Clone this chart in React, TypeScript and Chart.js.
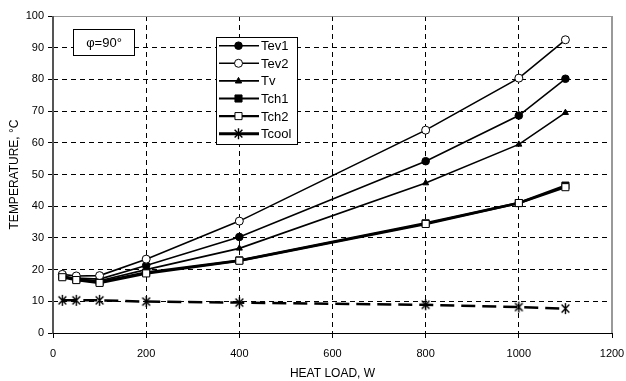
import React, { useEffect, useRef } from 'react';
import { Chart, registerables } from 'chart.js';

Chart.register(...registerables);

// ---- data ----
const heatLoad = [20, 50, 100, 200, 400, 800, 1000, 1100];
const tev1 = [17.8, 17.3, 17.0, 21.3, 30.3, 54.2, 68.6, 80.2];
const tev2 = [18.5, 18.0, 18.1, 23.3, 35.3, 64.0, 80.4, 92.5];
const tv = [17.6, 17.0, 16.5, 20.0, 26.7, 47.3, 59.5, 69.5];
const tch1 = [17.9, 16.9, 16.1, 19.1, 22.9, 34.6, 41.0, 46.5];
const tch2 = [17.6, 16.7, 15.8, 18.8, 22.8, 34.4, 41.0, 46.0];
const tcool = [10.3, 10.3, 10.3, 9.9, 9.6, 8.9, 8.2, 7.7];
const seriesNames = ['Tev1', 'Tev2', 'Tv', 'Tch1', 'Tch2', 'Tcool'];
const xTitle = 'HEAT LOAD, W';
const yTitle = 'TEMPERATURE, °C';
const annotationText = 'φ=90°';
const xRange = [0, 1200];
const yRange = [0, 100];

const FONT = "'Liberation Sans', Arial, sans-serif";

function drawMarker(ctx: CanvasRenderingContext2D, style: string, x: number, y: number, r: number, fill: string, lw = 1) {
  ctx.save();
  ctx.lineWidth = lw;
  ctx.strokeStyle = '#000';
  ctx.fillStyle = fill;
  ctx.setLineDash([]);
  ctx.beginPath();
  if (style === 'circle') {
    ctx.arc(x, y, r, 0, Math.PI * 2);
    ctx.fill();
    ctx.stroke();
  } else if (style === 'triangle') {
    ctx.moveTo(x, y - r);
    ctx.lineTo(x + r * 0.9, y + r * 0.6);
    ctx.lineTo(x - r * 0.9, y + r * 0.6);
    ctx.closePath();
    ctx.fill();
    ctx.stroke();
  } else if (style === 'rect') {
    const s = r * Math.SQRT1_2;
    ctx.rect(x - s, y - s, 2 * s, 2 * s);
    ctx.fill();
    ctx.stroke();
  } else {
    const s = r * Math.SQRT1_2;
    ctx.moveTo(x - s, y - s); ctx.lineTo(x + s, y + s);
    ctx.moveTo(x - s, y + s); ctx.lineTo(x + s, y - s);
    ctx.moveTo(x, y - r); ctx.lineTo(x, y + r);
    ctx.stroke();
  }
  ctx.restore();
}

// asterisk marker (X + vertical bar) as a canvas point style
function makeAsterisk(r: number) {
  const c = document.createElement('canvas');
  const size = 2 * Math.ceil(r + 1) + 1;
  c.width = size;
  c.height = size;
  const g = c.getContext('2d')!;
  drawMarker(g, 'asterisk', size / 2, size / 2, r, '#000', 1.4);
  return c;
}

const overlayPlugin = {
  id: 'overlay',
  afterDatasetsDraw(chart: any) {
    const ctx: CanvasRenderingContext2D = chart.ctx;
    const a = chart.chartArea;
    ctx.save();
    // frame
    ctx.setLineDash([]);
    ctx.strokeStyle = '#999';
    ctx.lineWidth = 1;
    ctx.beginPath();
    ctx.moveTo(a.left, a.top + 0.5);
    ctx.lineTo(a.right, a.top + 0.5);
    ctx.stroke();
    ctx.lineWidth = 2;
    ctx.beginPath();
    ctx.moveTo(a.right, a.top);
    ctx.lineTo(a.right, a.bottom);
    ctx.stroke();
    ctx.strokeStyle = '#555';
    ctx.lineWidth = 2;
    ctx.beginPath();
    ctx.moveTo(a.left, a.top);
    ctx.lineTo(a.left, a.bottom + 1);
    ctx.stroke();
    ctx.strokeStyle = '#000';
    ctx.lineWidth = 1;
    ctx.beginPath();
    ctx.moveTo(a.left, a.bottom + 0.5);
    ctx.lineTo(a.right, a.bottom + 0.5);
    ctx.stroke();

    // annotation box
    ctx.fillStyle = '#fff';
    ctx.fillRect(73, 29, 61, 26);
    ctx.strokeStyle = '#000';
    ctx.lineWidth = 1;
    ctx.strokeRect(73.5, 29.5, 61, 26);
    ctx.fillStyle = '#000';
    ctx.font = `13px ${FONT}`;
    ctx.textAlign = 'center';
    ctx.textBaseline = 'middle';
    ctx.fillText(annotationText, 104, 43);

    // legend box
    const lx = 216, ly = 37, lw = 81, lh = 107;
    ctx.fillStyle = '#fff';
    ctx.fillRect(lx, ly, lw, lh);
    ctx.strokeStyle = '#000';
    ctx.lineWidth = 1;
    ctx.strokeRect(lx + 0.5, ly + 0.5, lw, lh);
    const ds = chart.data.datasets;
    ctx.font = `13px ${FONT}`;
    ctx.textAlign = 'left';
    for (let i = 0; i < ds.length; i++) {
      const d = ds[i];
      const y = 45.7 + i * 17.6;
      ctx.setLineDash([]);
      ctx.strokeStyle = '#000';
      ctx.lineWidth = d.legendWidth;
      ctx.beginPath();
      ctx.moveTo(219, y);
      ctx.lineTo(259, y);
      ctx.stroke();
      drawMarker(ctx, d.legendMarker, 238.5, y, d.pointRadius, d.pointBackgroundColor, d.legendMarker === 'asterisk' ? 1.4 : 1);
      ctx.fillStyle = '#000';
      ctx.textBaseline = 'middle';
      ctx.fillText(d.label, 261, y + 1);
    }
    ctx.restore();
  },
};

function toPoints(vals: number[]) {
  return heatLoad.map((x, i) => ({ x, y: vals[i] }));
}

export default function App() {
  const ref = useRef<HTMLCanvasElement>(null);
  useEffect(() => {
    document.body.style.margin = '0';
    const canvas = ref.current!;
    const base = { borderColor: '#000', pointBorderColor: '#000', pointBorderWidth: 1, fill: false, tension: 0, showLine: true };
    const chart = new Chart(canvas, {
      type: 'scatter',
      data: {
        datasets: [
          { ...base, label: seriesNames[0], data: toPoints(tev1), borderWidth: 1.6, legendWidth: 1.6, pointStyle: 'circle', legendMarker: 'circle', pointRadius: 3.8, pointBackgroundColor: '#000', order: 3 },
          { ...base, label: seriesNames[1], data: toPoints(tev2), borderWidth: 1.6, legendWidth: 1.6, pointStyle: 'circle', legendMarker: 'circle', pointRadius: 4, pointBackgroundColor: '#fff', order: 2 },
          { ...base, label: seriesNames[2], data: toPoints(tv), borderWidth: 1.6, legendWidth: 1.6, pointStyle: 'triangle', legendMarker: 'triangle', pointRadius: 3.5, pointBackgroundColor: '#000', order: 4 },
          { ...base, label: seriesNames[3], data: toPoints(tch1), borderWidth: 2.5, legendWidth: 2.2, pointStyle: 'rect', legendMarker: 'rect', pointRadius: 5, pointBackgroundColor: '#000', order: 5 },
          { ...base, label: seriesNames[4], data: toPoints(tch2), borderWidth: 2.5, legendWidth: 2.2, pointStyle: 'rect', legendMarker: 'rect', pointRadius: 5, pointBackgroundColor: '#fff', order: 1 },
          { ...base, label: seriesNames[5], data: toPoints(tcool), borderWidth: 2.5, legendWidth: 3, borderDash: [14, 7], pointStyle: makeAsterisk(5.5), legendMarker: 'asterisk', pointRadius: 5.5, pointBackgroundColor: '#000', order: 6 },
        ] as any,
      },
      options: {
        animation: false,
        responsive: false,
        maintainAspectRatio: false,
        devicePixelRatio: 1,
        layout: { padding: { top: 16, right: 14, left: 0, bottom: 0 } },
        plugins: { legend: { display: false }, tooltip: { enabled: false } },
        scales: {
          x: {
            type: 'linear',
            min: xRange[0],
            max: xRange[1],
            ticks: { stepSize: 200, color: '#000', font: { family: FONT, size: 11 }, padding: 9, callback: (v: any) => String(v) },
            grid: {
              color: (c: any) => (c.tick && (c.tick.value === xRange[0] || c.tick.value === xRange[1]) ? 'rgba(0,0,0,0)' : '#000'),
              lineWidth: 1,
              tickColor: '#000',
              tickLength: 5,
            },
            border: { display: false, dash: [5, 4] },
            title: { display: true, text: xTitle, color: '#000', font: { family: FONT, size: 12 }, padding: { top: 0, bottom: 0 } },
            afterFit: (s: any) => { s.height = 48; s.paddingLeft = 0; s.paddingRight = 0; },
          },
          y: {
            type: 'linear',
            min: yRange[0],
            max: yRange[1],
            ticks: { stepSize: 10, color: '#000', font: { family: FONT, size: 11 }, padding: 4, callback: (v: any) => String(v) },
            grid: {
              color: (c: any) => (c.tick && (c.tick.value === yRange[0] || c.tick.value === yRange[1]) ? 'rgba(0,0,0,0)' : '#000'),
              lineWidth: 1,
              tickColor: '#000',
              tickLength: 5,
            },
            border: { display: false, dash: [5, 4] },
            title: { display: true, text: yTitle, color: '#000', font: { family: FONT, size: 12 }, padding: { top: 7, bottom: 0 } },
            afterFit: (s: any) => { s.width = 53; s.paddingTop = 0; s.paddingBottom = 0; },
          },
        },
      },
      plugins: [overlayPlugin],
    } as any);
    return () => chart.destroy();
  }, []);
  return (
    <div style={{ position: 'fixed', left: 0, top: 0, width: 626, height: 381, background: '#fff' }}>
      <canvas ref={ref} width={626} height={381} style={{ width: 626, height: 381 }} />
    </div>
  );
}
